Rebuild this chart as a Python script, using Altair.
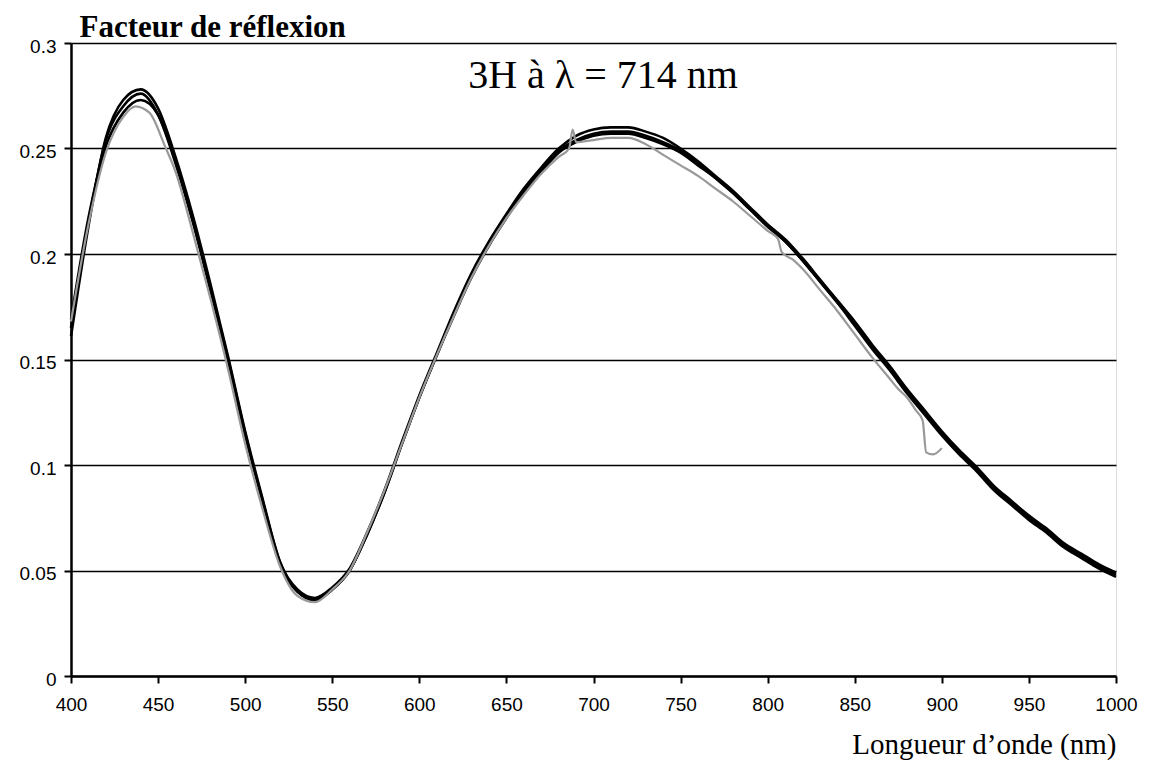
import altair as alt
import pandas as pd

# Wavelength grid (nm) for the three black measurement curves
wl = list(range(400, 1001, 10))

black1 = [0.165, 0.215, 0.254, 0.270, 0.276, 0.266, 0.243, 0.215, 0.183, 0.150,
          0.114, 0.083, 0.053, 0.040, 0.036, 0.041, 0.050, 0.067, 0.087, 0.110,
          0.132, 0.152, 0.172, 0.190, 0.205, 0.218, 0.230, 0.240, 0.249, 0.254,
          0.257, 0.258, 0.258, 0.256, 0.253, 0.249, 0.243, 0.236, 0.229, 0.221,
          0.213, 0.206, 0.197, 0.187, 0.177, 0.167, 0.156, 0.146, 0.135, 0.125,
          0.115, 0.106, 0.098, 0.089, 0.082, 0.075, 0.069, 0.062, 0.057, 0.052,
          0.048]

black2 = [0.161, 0.213, 0.255, 0.273, 0.278, 0.269, 0.246, 0.218, 0.186, 0.152,
          0.116, 0.084, 0.054, 0.041, 0.037, 0.042, 0.051, 0.068, 0.088, 0.111,
          0.133, 0.153, 0.173, 0.191, 0.206, 0.219, 0.231, 0.241, 0.250, 0.256,
          0.259, 0.260, 0.260, 0.258, 0.255, 0.250, 0.244, 0.237, 0.230, 0.222,
          0.214, 0.207, 0.198, 0.188, 0.178, 0.168, 0.157, 0.147, 0.136, 0.126,
          0.116, 0.107, 0.099, 0.090, 0.083, 0.076, 0.070, 0.063, 0.058, 0.053,
          0.049]

black3 = [0.169, 0.217, 0.251, 0.267, 0.273, 0.266, 0.244, 0.216, 0.184, 0.151,
          0.115, 0.083, 0.054, 0.040, 0.036, 0.041, 0.050, 0.067, 0.087, 0.110,
          0.132, 0.152, 0.171, 0.189, 0.204, 0.217, 0.229, 0.239, 0.248, 0.253,
          0.256, 0.257, 0.257, 0.255, 0.252, 0.248, 0.242, 0.236, 0.229, 0.221,
          0.213, 0.206, 0.197, 0.187, 0.177, 0.166, 0.155, 0.145, 0.134, 0.124,
          0.114, 0.105, 0.097, 0.088, 0.081, 0.074, 0.068, 0.061, 0.056, 0.051,
          0.047]

# Grey curve (own wavelength sampling)
gray_wl = [400, 410, 420, 430, 437, 445, 454, 460, 470, 480, 490, 500, 510, 520,
           530, 540, 550, 560, 570, 580, 590, 600, 610, 620, 630, 640, 650, 660,
           670, 680, 686, 688, 690, 700, 710, 720, 730, 740, 750, 760, 770, 780,
           790, 800, 806, 808, 815, 820, 830, 840, 850, 860, 870, 875, 880, 885,
           889, 891, 895, 900]
gray = [0.168, 0.214, 0.248, 0.265, 0.270, 0.267, 0.251, 0.239, 0.210, 0.179,
        0.146, 0.110, 0.079, 0.052, 0.038, 0.035, 0.041, 0.050, 0.068, 0.088,
        0.110, 0.132, 0.152, 0.171, 0.189, 0.204, 0.217, 0.228, 0.238, 0.246,
        0.250, 0.259, 0.253, 0.254, 0.255, 0.255, 0.252, 0.247, 0.242, 0.237,
        0.231, 0.225, 0.218, 0.211, 0.207, 0.201, 0.197, 0.193, 0.183, 0.173,
        0.162, 0.151, 0.141, 0.136, 0.132, 0.126, 0.121, 0.106, 0.105, 0.108]

x_ticks = list(range(400, 1001, 50))
y_ticks = [0, 0.05, 0.1, 0.15, 0.2, 0.25, 0.3]
annotation = ["3H à λ = 714 nm"]

rows = []
for name, vals in (("m1", black1), ("m2", black2), ("m3", black3)):
    for w, v in zip(wl, vals):
        rows.append({"serie": name, "lambda": w, "R": v})
df_black = pd.DataFrame(rows)
df_gray = pd.DataFrame({"lambda": gray_wl, "R": gray})
df_text = pd.DataFrame({"t": annotation})

x_enc = alt.X(
    "lambda:Q",
    scale=alt.Scale(domain=[400, 1000], nice=False, zero=False),
    axis=alt.Axis(
        values=x_ticks, format="d", grid=False, title="Longueur d’onde (nm)",
        labelFont="Liberation Sans", labelFontSize=19, labelColor="black",
        labelFlush=False, labelOverlap=False,
        labelPadding=12, tickSize=7, tickWidth=2, tickColor="black",
        domainColor="black", domainWidth=2.5,
        titleFont="Liberation Serif", titleFontSize=29, titleFontWeight="normal",
        titleColor="black", titleAnchor="end", titleAlign="right",
        titleX=1045, titleY=77, titleBaseline="alphabetic",
    ),
)
y_enc = alt.Y(
    "R:Q",
    scale=alt.Scale(domain=[0, 0.3], nice=False),
    axis=alt.Axis(
        values=y_ticks, format="~g", grid=True, gridColor="black", gridWidth=1.5,
        labelFont="Liberation Sans", labelFontSize=19, labelColor="black",
        labelPadding=8, labelOffset=3, tickSize=7, tickWidth=2, tickColor="black",
        domainColor="black", domainWidth=2.5,
        title="Facteur de réflexion", titleAngle=0, titleAlign="left",
        titleBaseline="alphabetic", titleX=8, titleY=-7,
        titleFont="Liberation Serif", titleFontSize=31, titleFontWeight="bold",
        titleColor="black",
    ),
)

black = alt.Chart(df_black).mark_line(
    color="black", strokeWidth=2.6, interpolate="monotone"
).encode(x=x_enc, y=y_enc, detail="serie:N")

grey = alt.Chart(df_gray).mark_line(
    color="#999999", strokeWidth=2.2, interpolate="monotone"
).encode(x=x_enc, y=y_enc)

text = alt.Chart(df_text).mark_text(
    font="Liberation Serif", fontSize=40, align="center", baseline="alphabetic",
    color="black",
).encode(x=alt.value(532), y=alt.value(45), text="t:N")

chart = alt.layer(black, grey, text).properties(
    width=1045, height=633,
    autosize=alt.AutoSizeParams(type="none"),
    padding={"left": 63, "top": 35, "right": 27, "bottom": 85},
).configure_view(stroke=None).configure(background="white")

chart.save("out.html", embed_options={"renderer": "svg", "actions": False})
